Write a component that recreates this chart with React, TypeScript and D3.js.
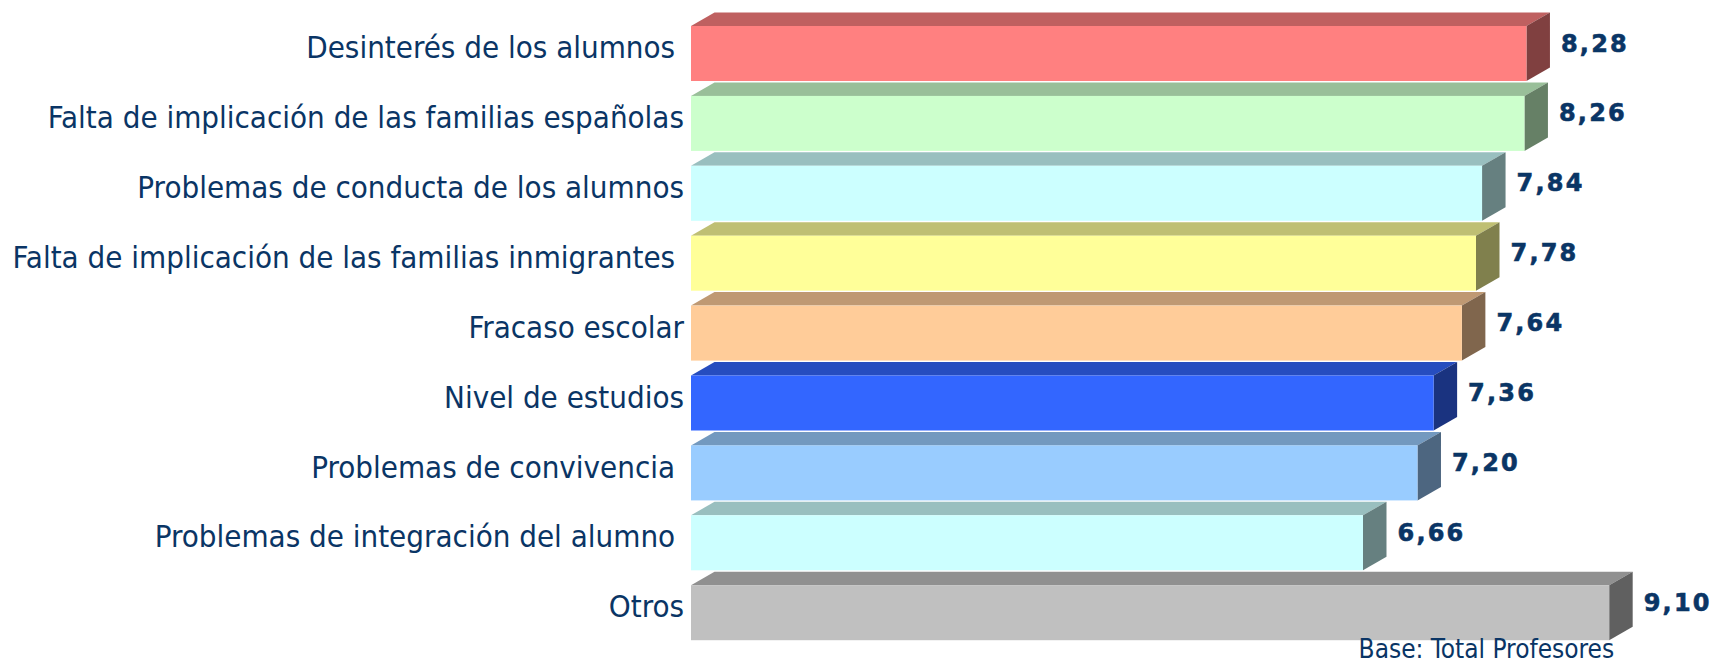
import React from "react";
import * as d3 from "d3";

const categories = [
  "Desinterés de los alumnos ",
  "Falta de implicación de las familias españolas",
  "Problemas de conducta de los alumnos",
  "Falta de implicación de las familias inmigrantes ",
  "Fracaso escolar",
  "Nivel de estudios",
  "Problemas de convivencia ",
  "Problemas de integración del alumno ",
  "Otros",
];
const values = [8.28, 8.26, 7.84, 7.78, 7.64, 7.36, 7.2, 6.66, 9.1];
const barColors = [
  "#FF8080",
  "#CCFFCC",
  "#CCFFFF",
  "#FFFF99",
  "#FFCC99",
  "#3366FF",
  "#99CCFF",
  "#CCFFFF",
  "#C0C0C0",
];
const footnote = "Base: Total Profesores";

const W = 1714;
const H = 664;
const DX = 23.5;
const DY = 13.5;
const TEXT = "#0A3565";
const LABEL_FONT = "'DejaVu Sans Condensed', 'DejaVu Sans', sans-serif";

function shade(c: string, k: number) {
  const r = d3.rgb(c);
  return d3.rgb(r.r * k, r.g * k, r.b * k).formatHex();
}

export default function App() {
  const x = d3.scaleLinear().domain([0, 10]).range([691, 1700]);
  const n = categories.length;
  const step = 69.9;
  const y = d3
    .scaleBand<string>()
    .domain(categories)
    .range([18.55, 18.55 + n * step])
    .paddingInner(0.213)
    .paddingOuter(0.1065);
  const fmt = (v: number) => v.toFixed(2).replace(".", ",");

  return (
    <svg
      width={W}
      height={H}
      viewBox={`0 0 ${W} ${H}`}
      style={{ position: "absolute", left: 0, top: 0, display: "block", background: "#fff" }}
    >
      {categories.map((c, i) => {
        const x0 = x(0);
        const x1 = x(values[i]);
        const t = y(c) as number;
        const b = t + y.bandwidth();
        const col = barColors[i];
        const top = `M${x0},${t}L${x0 + DX},${t - DY}L${x1 + DX},${t - DY}L${x1},${t}Z`;
        const side = `M${x1},${t}L${x1 + DX},${t - DY}L${x1 + DX},${b - DY}L${x1},${b}Z`;
        return (
          <g key={c}>
            <path d={top} fill={shade(col, 0.75)} />
            <path d={side} fill={shade(col, 0.5)} />
            <rect x={x0} y={t} width={x1 - x0} height={b - t} fill={col} />
          </g>
        );
      })}
      {categories.map((c, i) => {
        const cy = (y(c) as number) + y.bandwidth() / 2;
        return (
          <text
            key={"l" + i}
            x={684}
            y={cy + 4.6}
            textAnchor="end"
            fontFamily={LABEL_FONT}
            fontSize={31}
            fill={TEXT}
            style={{ whiteSpace: "pre" }}
          >
            {c}
          </text>
        );
      })}
      {categories.map((c, i) => {
        const cy = (y(c) as number) + y.bandwidth() / 2;
        return (
          <text
            key={"v" + i}
            x={x(values[i]) + DX + 11}
            y={cy - 2}
            fontFamily="'DejaVu Sans', Verdana, sans-serif"
            fontWeight="bold"
            fontSize={24}
            letterSpacing={2.2}
            fill={TEXT}
            stroke={TEXT}
            strokeWidth={0.6}
          >
            {fmt(values[i])}
          </text>
        );
      })}
      <text
        x={x(values[n - 1]) + 5}
        y={658}
        textAnchor="end"
        fontFamily={LABEL_FONT}
        fontSize={26}
        fill={TEXT}
      >
        {footnote}
      </text>
    </svg>
  );
}
